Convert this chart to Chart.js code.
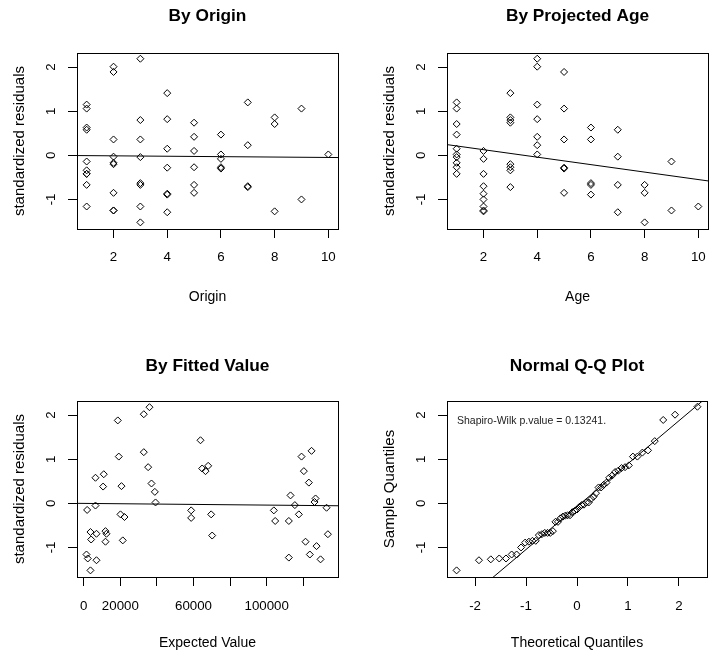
<!DOCTYPE html>
<html><head><meta charset="utf-8">
<script src="https://cdn.jsdelivr.net/npm/chart.js@4.4.1/dist/chart.umd.min.js"></script>
<style>
html,body{margin:0;padding:0;background:#fff;}
#wrap{position:relative;width:711px;height:653px;overflow:hidden;background:#fff;}
canvas{position:absolute;}
</style></head><body>
<div id="wrap">
<canvas id="c1" width="355" height="326" style="left:0;top:0"></canvas>
<canvas id="c2" width="356" height="326" style="left:355px;top:0"></canvas>
<canvas id="c3" width="355" height="327" style="left:0;top:326px"></canvas>
<canvas id="c4" width="356" height="327" style="left:355px;top:326px"></canvas>
</div>
<script>
// ---------- DATA ----------
const origins = [1,2,3,4,5,6,7,8,9,10];
// standardized residuals by origin (rows) and development age (columns 1..)
const residOrigin1  = [-0.42,-0.42,-0.34, 1.15, 1.06, 0.63, 0.58,-0.67,-0.14,-1.16];
const residOrigin2  = [-0.17,-1.25,-0.20, 2.01, 1.89, 0.36,-0.03,-0.85,-1.25];
const residOrigin3  = [-0.04,-1.16, 0.80, 2.19, 0.36,-0.63,-0.67,-1.52];
const residOrigin4  = [ 0.15,-0.87, 1.41, 0.82,-0.28,-0.89,-1.29];
const residOrigin5  = [-0.27, 0.10, 0.74, 0.42,-0.85,-0.67];
const residOrigin6  = [ 0.47,-0.08,-0.27, 0.02,-0.30];
const residOrigin7  = [ 1.20,-0.70,-0.72, 0.23];
const residOrigin8  = [ 0.71,-1.27, 0.86];
const residOrigin9  = [ 1.06,-1.00];
const residOrigin10 = [ 0.02];
const residTriangle = [residOrigin1,residOrigin2,residOrigin3,residOrigin4,residOrigin5,
                       residOrigin6,residOrigin7,residOrigin8,residOrigin9,residOrigin10];

// fitted (expected) values and their residuals
const fittedValues = [1840,6400,6400,10940,10580,3660,4030,6950,11870,12420,11870,1480,2190,6950,3660,
  18600,19150,20620,20070,22260,21330,
  32820,35930,32820,35200,37030,38860,39230,
  63820,64730,66560,68020,58720,58720,69660,70200,
  103910,104650,112120,113040,115410,117600,119060,120330,123060,124530,126720,126170,121240,123600,127270,129460,112120,132740,133470];
const fittedResiduals = [-0.15,0.58,-0.05,0.66,0.38,-0.65,-0.82,-0.69,-0.63,-0.69,-0.87,-1.16,-1.25,-1.29,-1.52,
  1.88,1.06,0.39,-0.25,-0.31,-0.84,
  2.02,2.18,1.16,0.82,0.45,0.26,0.02,
  1.43,0.79,0.73,0.85,-0.16,-0.33,-0.25,-0.73,
  -0.16,-0.40,-0.40,0.18,-0.04,-0.25,1.06,0.73,0.47,1.19,0.11,0.03,-0.87,-1.16,-0.97,-1.27,-1.23,-0.10,-0.70];

// normal theoretical quantiles for 55 points
const qqTheoretical = [-2.362,-1.923,-1.691,-1.525,-1.393,-1.282,-1.184,-1.097,-1.017,-0.943,-0.874,-0.809,-0.748,-0.689,
  -0.632,-0.578,-0.524,-0.473,-0.423,-0.373,-0.325,-0.277,-0.230,-0.183,-0.137,-0.091,-0.046,0,
  0.046,0.091,0.137,0.183,0.230,0.277,0.325,0.373,0.423,0.473,0.524,0.578,0.632,0.689,0.748,0.809,
  0.874,0.943,1.017,1.097,1.184,1.282,1.393,1.525,1.691,1.923,2.362];

// fitted trend lines (x ends, y ends)
const originLineX = [0.64, 10.36],   originLineY = [-0.005, -0.05];
const ageLineX    = [0.64, 10.36],   ageLineY    = [0.243, -0.58];
const fittedLineX = [-3700, 139000], fittedLineY = [0.0, -0.055];
const qqLineX     = [-2.55, 2.55],   qqLineY     = [-2.555, 2.408];

// axes
const residTicks = [-1, 0, 1, 2];
const residRange = [-1.67, 2.32];
const originTicks = [2, 4, 6, 8, 10];
const indexRange = [0.64, 10.36];
const fittedTicks = [0, 20000, 40000, 60000, 80000, 100000, 120000];
const fittedTicksLabelled = [0, 20000, 60000, 100000];
const fittedRange = [-3700, 139000];
const qqTicks = [-2, -1, 0, 1, 2];
const qqRange = [-2.55, 2.55];
const shapiroText = 'Shapiro-Wilk p.value = 0.13241.';

// ---------- RENDER ----------
const FONT = "'Liberation Sans', Arial, sans-serif";

const byOrigin = [], byAge = [];
residTriangle.forEach((row, i) => row.forEach((r, j) => {
  byOrigin.push({x: origins[i], y: r});
  byAge.push({x: j + 1, y: r});
}));
const byFitted = fittedValues.map((v, i) => ({x: v, y: fittedResiduals[i]}));
const sortedResid = residTriangle.flat().slice().sort((a, b) => a - b);
const qqPoints = sortedResid.map((r, i) => ({x: qqTheoretical[i], y: r}));
const linePts = (xs, ys) => xs.map((x, i) => ({x, y: ys[i]}));

const pointDs = data => ({
  data, pointStyle: 'rectRot', pointRadius: 3.5, pointHoverRadius: 3.5,
  borderColor: '#000', backgroundColor: 'rgba(0,0,0,0)', borderWidth: 1, showLine: false
});
const lineDs = data => ({
  data, showLine: true, pointRadius: 0, borderColor: '#000', borderWidth: 1, fill: false
});

const boxPlugin = {
  id: 'rbox',
  afterDraw(chart) {
    const {ctx, chartArea: a} = chart;
    ctx.save();
    ctx.strokeStyle = '#000';
    ctx.lineWidth = 1;
    ctx.strokeRect(Math.round(a.left) + 0.5, Math.round(a.top) + 0.5,
      Math.round(a.right - a.left), Math.round(a.bottom - a.top));
    ctx.restore();
  }
};

function makePanel(id, c) {
  const axisW = 77;
  const plugins = [boxPlugin];
  if (c.note) {
    plugins.push({
      id: 'note',
      afterDraw(chart) {
        const {ctx, chartArea: a} = chart;
        ctx.save();
        ctx.font = '10.5px ' + FONT;
        ctx.fillStyle = '#222';
        ctx.textBaseline = 'middle';
        ctx.textAlign = 'left';
        ctx.fillText(c.note, a.left + 10, a.top + 20);
        ctx.restore();
      }
    });
  }
  return new Chart(document.getElementById(id), {
    type: 'scatter',
    data: {datasets: c.datasets},
    plugins,
    options: {
      responsive: false, animation: false, devicePixelRatio: 1,
      layout: {autoPadding: false, padding: {left: c.padLeft, right: c.padRight, top: 0, bottom: 0}},
      plugins: {
        legend: {display: false}, tooltip: {enabled: false},
        title: {display: true, text: c.title, fullSize: false, color: '#000',
          font: {family: FONT, size: 17.3, weight: 'bold', lineHeight: 1.2},
          padding: {top: c.titleTop, bottom: c.titleBottom}}
      },
      scales: {
        x: {
          type: 'linear', position: 'bottom', min: c.xRange[0], max: c.xRange[1],
          afterBuildTicks: s => { s.ticks = c.xTicks.map(v => ({value: v})); },
          afterFit: s => { s.height = c.xAxisH; s.paddingLeft = 0; s.paddingRight = 0; s.paddingTop = 0; s.paddingBottom = 0; },
          grid: {display: true, drawOnChartArea: false, drawTicks: true, tickLength: 9, color: '#000', lineWidth: 1},
          border: {display: false},
          ticks: {autoSkip: false, minRotation: 0, maxRotation: 0, padding: c.xTickPad, color: '#000',
            font: {family: FONT, size: 13.3},
            callback: c.xLabel || (v => String(v))},
          title: {display: true, text: c.xTitle, color: '#000', font: {family: FONT, size: 14, lineHeight: 1.2},
            padding: {top: 0, bottom: c.xTitlePB}}
        },
        y: {
          type: 'linear', position: 'left', min: residRange[0], max: residRange[1],
          afterBuildTicks: s => { s.ticks = residTicks.map(v => ({value: v})); },
          afterFit: s => { s.width = axisW; s.paddingLeft = 0; s.paddingRight = 0; s.paddingTop = 0; s.paddingBottom = 0; },
          grid: {display: true, drawOnChartArea: false, drawTicks: true, tickLength: 9, color: '#000', lineWidth: 1},
          border: {display: false},
          ticks: {minRotation: 90, maxRotation: 90, crossAlign: 'center', padding: 11, color: '#000',
            font: {family: FONT, size: 13.3}, callback: v => String(v)},
          title: {display: true, text: c.yTitle, color: '#000', font: {family: FONT, size: 15, lineHeight: 1.2},
            padding: {top: 10.8, bottom: 0}}
        }
      }
    }
  });
}

makePanel('c1', {
  title: 'By Origin', xTitle: 'Origin', yTitle: 'standardized residuals',
  xRange: indexRange, xTicks: originTicks,
  datasets: [pointDs(byOrigin), lineDs(linePts(originLineX, originLineY))],
  padLeft: 0, padRight: 17, titleTop: 6, titleBottom: 26.24, xAxisH: 97, xTickPad: 11.6, xTitlePB: 20.4
});
makePanel('c2', {
  title: 'By Projected Age', xTitle: 'Age', yTitle: 'standardized residuals',
  xRange: indexRange, xTicks: originTicks,
  datasets: [pointDs(byAge), lineDs(linePts(ageLineX, ageLineY))],
  padLeft: 15, padRight: 3, titleTop: 6, titleBottom: 26.24, xAxisH: 97, xTickPad: 11.6, xTitlePB: 20.4
});
makePanel('c3', {
  title: 'By Fitted Value', xTitle: 'Expected Value', yTitle: 'standardized residuals',
  xRange: fittedRange, xTicks: fittedTicks,
  xLabel: v => fittedTicksLabelled.includes(v) ? String(v) : '',
  datasets: [pointDs(byFitted), lineDs(linePts(fittedLineX, fittedLineY))],
  padLeft: 0, padRight: 17, titleTop: 29.4, titleBottom: 24.84, xAxisH: 76, xTickPad: 12.2, xTitlePB: 1.7
});
makePanel('c4', {
  title: 'Normal Q-Q Plot', xTitle: 'Theoretical Quantiles', yTitle: 'Sample Quantiles',
  xRange: qqRange, xTicks: qqTicks,
  datasets: [pointDs(qqPoints), lineDs(linePts(qqLineX, qqLineY))],
  padLeft: 15, padRight: 4, titleTop: 29.4, titleBottom: 24.84, xAxisH: 76, xTickPad: 12.2, xTitlePB: 1.7,
  note: shapiroText
});
</script>
</body></html>
